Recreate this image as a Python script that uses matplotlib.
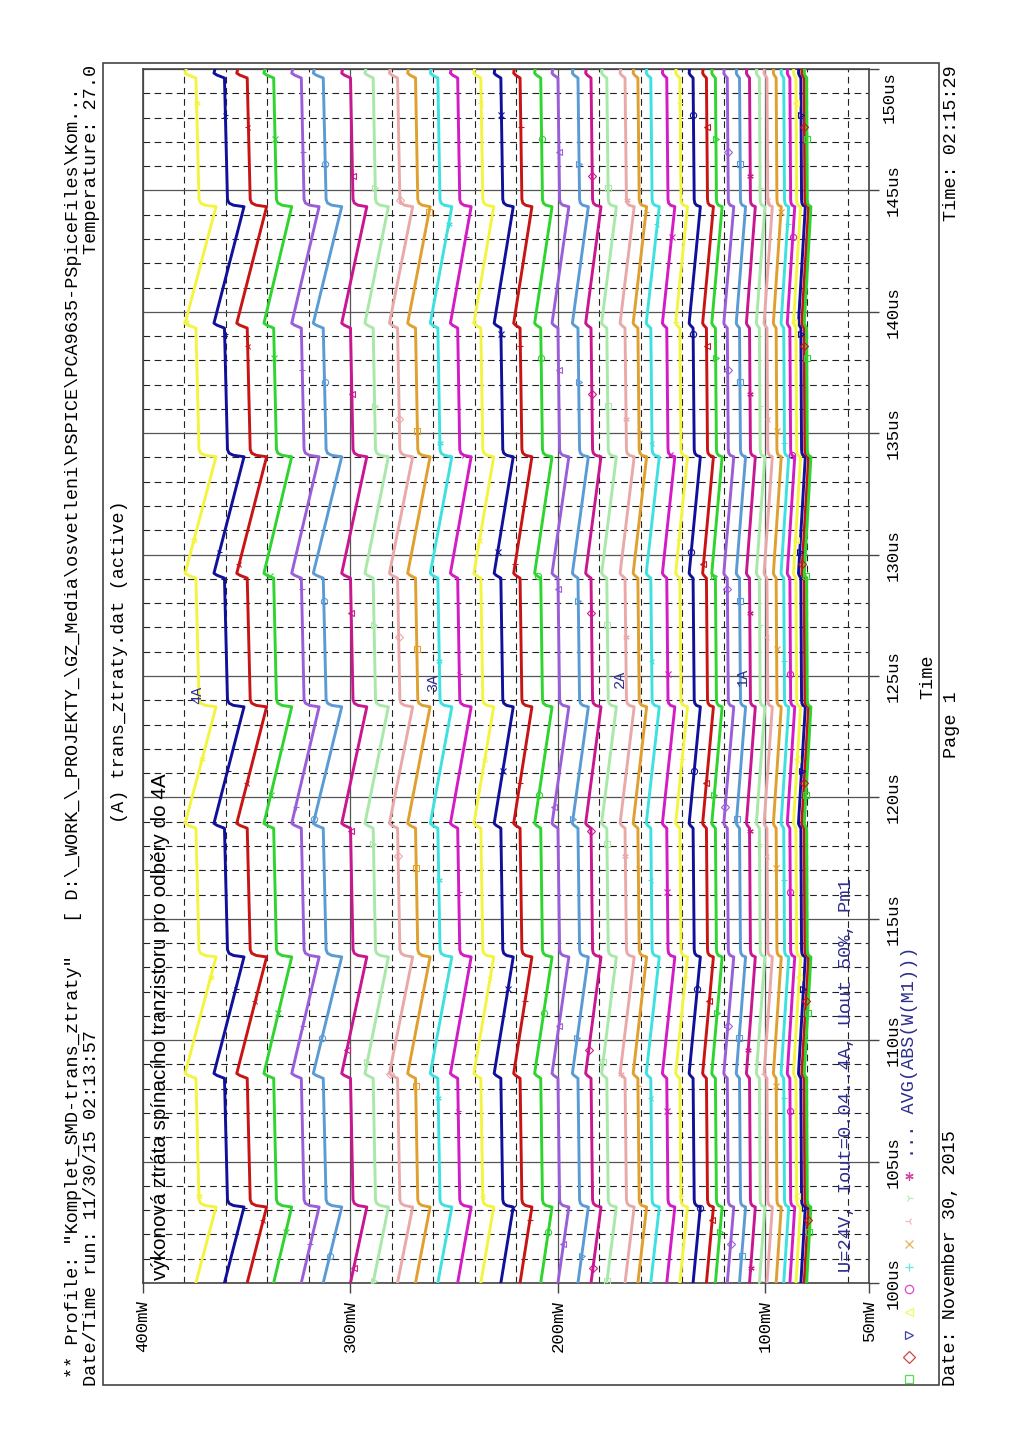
import numpy as np
import matplotlib
matplotlib.use("Agg")
import matplotlib.pyplot as plt
from matplotlib.patches import Rectangle

W, H = 1024, 1448

# power at the end of the falling ramp (mW), 4A curve first, 0.1A last
p_low = [364.8, 351.3, 340.4, 328.3, 315.1, 304.2, 292.1, 281.7, 270.0, 261.6,
         251.1, 241.8, 230.9, 221.5, 212.5, 202.8, 194.7, 185.3, 179.2, 171.8,
         163.2, 157.2, 151.1, 143.6, 137.5, 131.3, 125.0, 120.8, 115.2, 109.5,
         104.8, 100.2, 96.6, 92.3, 88.7, 85.8, 83.0, 80.7, 79.1, 78.0]
# ripple height of each curve (mW)
swing = [14.9, 14.5, 14.4, 13.4, 13.2, 13.7, 12.1, 11.3, 11.2, 10.8,
         10.4, 10.0, 9.6, 9.2, 8.8, 8.4, 8.1, 7.7, 7.4, 7.1,
         6.8, 6.5, 6.3, 6.0, 5.7, 5.4, 5.2, 5.0, 4.8, 4.5,
         4.3, 4.1, 4.0, 3.8, 3.7, 3.6, 3.4, 3.3, 3.3, 3.2]

# one period of the ripple: time from peak (us) and relative height
period = 10.3
t_peak0 = 98.33
shape_dt = [-0.20, -0.08, 0.0, 4.80, 4.86, 4.95, 5.10]
shape_f = [0.65, 0.90, 1.0, 0.0, 0.35, 0.50, 0.55]

colors = ['#f4f440', '#10109a', '#c81414', '#2fd42f', '#9a5fd8', '#5b9bd5',
          '#c8178f', '#a8e8a8', '#e9a9a9', '#e0a030', '#3fe0e0', '#d41cc4']
markers = ['s', 'D', '>', '<', 'o', '+', 'x', '3', '4', (6, 2, 0)]

curve_labels = ['4A', '3A', '2A', '1A']
label_pos = [(197, 695), (433, 683), (620, 679), (743, 677)]

x_ticks = [400, 300, 200, 100, 50]
y_ticks = [100, 105, 110, 115, 120, 125, 130, 135, 140, 145, 150]

mono = 'Liberation Mono'
navy = '#2e2e8e'

fig = plt.figure(figsize=(W / 100, H / 100), dpi=100)
ax = fig.add_axes([143 / W, 1 - 1283 / H, (869 - 143) / W, (1283 - 69) / H])

tt = []
ff = []
for k in range(-1, 6):
    tp = t_peak0 + k * period
    for dt, f in zip(shape_dt, shape_f):
        tt.append(tp + dt)
        ff.append(f)
tt = np.array(tt)
ff = np.array(ff)

n = len(p_low)
for i in range(n):
    p = p_low[i] + swing[i] * ff
    c = colors[i % 12]
    ax.plot(p, tt, color=c, lw=2.1, zorder=3, solid_joinstyle='round')
    # sparse trace markers
    j = n - 1 - i
    tm = np.arange(148.6 - 0.5 * (i % 12), 100, -9.0)
    pm = np.interp(tm, tt, p)
    ax.plot(pm, tm, ls='none', marker=markers[j % 10], ms=4.5, mew=0.8,
            mfc='none', mec=c, zorder=4)

ax.set_xlim(400, 50)
ax.set_ylim(100, 150)
ax.set_xticks(x_ticks)
ax.set_xticklabels([f'{v}mW' for v in x_ticks], rotation=90, family=mono, fontsize=12.5)
ax.set_xticks([v for v in range(60, 400, 20) if v % 100], minor=True)
ax.set_yticks(y_ticks)
# top label is pushed inside the page by PSpice, drawn separately below
ax.set_yticklabels([f'{v}us' if v < 150 else '' for v in y_ticks], rotation=90,
                   va='center', family=mono, fontsize=12.5)
ax.set_yticks([v for v in range(101, 150) if v % 5], minor=True)
ax.yaxis.tick_right()
ax.tick_params(which='major', direction='out', length=7, width=1, color='#444',
               pad=5)
ax.tick_params(which='minor', length=0)
ax.grid(which='major', color='#555555', lw=0.9, zorder=1)
ax.grid(which='minor', color='#222222', lw=0.8, ls=(0, (6, 4)), zorder=1)
for s in ax.spines.values():
    s.set_color('#444')
    s.set_linewidth(1.2)

for s, (px, py) in zip(curve_labels, label_pos):
    fig.text(px / W, 1 - py / H, s, rotation=90, rotation_mode='anchor',
             ha='center', va='center', family=mono, fontsize=11, color=navy)


def ptxt(x, y, s, **kw):
    fig.text(x / W, 1 - y / H, s, rotation=90, rotation_mode='anchor', **kw)


ptxt(889, 97, '150us', ha='center', va='center', family=mono, fontsize=12.5)
ptxt(161, 1280, 'výkonová ztráta spínacího tranzistoru pro odběry do 4A',
     ha='left', va='center', family='Liberation Sans', fontsize=14.9)
ptxt(846, 1272, 'U=24V, Iout=0.04..4A, Uout 50%, Pm1', ha='left', va='center',
     family=mono, fontsize=13.5, color=navy)

ptxt(74, 1378, '** Profile: "Komplet_SMD-trans_ztraty"   '
     '[ D:\\_WORK_\\_PROJEKTY_\\GZ_Media\\osvetleni\\PSPICE\\PCA9635-PSpiceFiles\\Kom...',
     ha='left', va='center', family=mono, fontsize=13.3)
ptxt(92, 1386, 'Date/Time run: 11/30/15 02:13:57', ha='left', va='center',
     family=mono, fontsize=13.3)
ptxt(92, 65, 'Temperature: 27.0', ha='right', va='center', family=mono, fontsize=13.3)
ptxt(120, 662, '(A) trans_ztraty.dat (active)', ha='center', va='center',
     family=mono, fontsize=13.3)
ptxt(928, 677, 'Time', ha='center', va='center', family=mono, fontsize=13.3)
ptxt(951, 1386, 'Date: November 30, 2015', ha='left', va='center',
     family=mono, fontsize=13.3)
ptxt(951, 725, 'Page 1', ha='center', va='center', family=mono, fontsize=13.3)
ptxt(951, 65, 'Time: 02:15:29', ha='right', va='center', family=mono, fontsize=13.3)

# legend symbols along the bottom
leg_y = [1379, 1357, 1335, 1312, 1289, 1267, 1244, 1221, 1198, 1176]
for j, ly in enumerate(leg_y):
    c = colors[(n - 1 - j) % 12]
    fig.lines.append(plt.Line2D([909 / W], [1 - ly / H], transform=fig.transFigure,
                                ls='none', marker=markers[j], ms=6, mew=0.9,
                                mfc='none', mec=c, alpha=0.8))
ptxt(909, 1158, '... AVG(ABS(W(M1)))', ha='left', va='center', family=mono,
     fontsize=13.3, color=navy)

fig.patches.append(Rectangle((103 / W, 1 - 1385 / H), (939 - 103) / W, (1385 - 63) / H,
                             transform=fig.transFigure, fill=False, ec='#444', lw=1.2))

fig.savefig('out.png', dpi=100)
